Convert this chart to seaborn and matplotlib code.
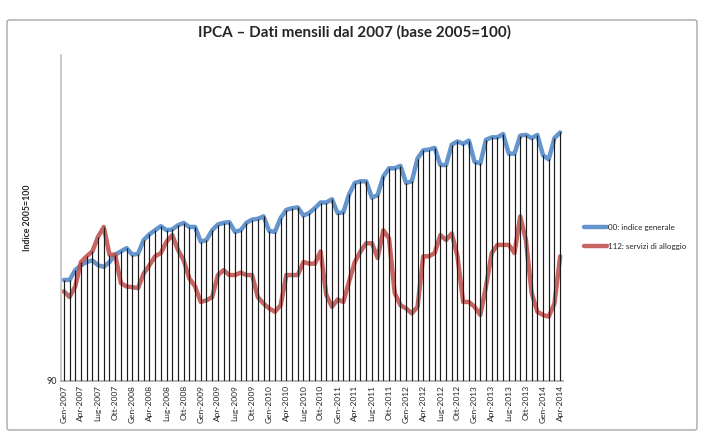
import matplotlib
matplotlib.use("Agg")
import matplotlib.pyplot as plt
from matplotlib.patches import FancyBboxPatch
import numpy as np
import pandas as pd
import seaborn as sns

# ---- data -------------------------------------------------------------
mesi = ["Gen", "Feb", "Mar", "Apr", "Mag", "Giu", "Lug", "Ago", "Set", "Ott", "Nov", "Dic"]
anni = list(range(2007, 2015))
categorie = [f"{m}-{a}" for a in anni for m in mesi][:88]   # Gen-2007 .. Apr-2014

indice_generale = [
    102.4, 102.4, 103.6, 104.2, 104.6, 104.8, 104.2, 104.0, 104.6, 105.5, 105.9, 106.3,
    105.5, 105.6, 107.3, 108.0, 108.5, 109.0, 108.5, 108.6, 109.1, 109.4, 108.9, 108.9,
    107.1, 107.3, 108.5, 109.2, 109.4, 109.5, 108.3, 108.5, 109.4, 109.8, 109.9, 110.2,
    108.4, 108.3, 110.0, 111.0, 111.2, 111.3, 110.3, 110.6, 111.2, 111.9, 111.9, 112.3,
    110.6, 110.7, 112.9, 114.3, 114.5, 114.5, 112.5, 112.8, 115.1, 116.1, 116.1, 116.4,
    114.3, 114.5, 117.3, 118.3, 118.4, 118.6, 116.5, 116.5, 119.0, 119.4, 119.1, 119.5,
    116.9, 116.7, 119.6, 119.9, 119.9, 120.3, 117.9, 117.9, 120.1, 120.2, 119.8, 120.2,
    117.7, 117.2, 119.8, 120.5,
]
servizi_alloggio = [
    101.0, 100.3, 101.6, 104.6, 105.3, 105.9, 107.7, 108.9, 105.5, 105.5, 102.0, 101.6,
    101.5, 101.4, 103.2, 104.2, 105.3, 105.7, 107.1, 107.9, 106.1, 104.8, 102.6, 101.6,
    99.7, 99.9, 100.3, 103.0, 103.6, 103.0, 103.0, 103.3, 103.0, 103.0, 100.3, 99.5,
    98.9, 98.5, 99.3, 103.0, 103.0, 103.0, 104.6, 104.4, 104.4, 105.9, 100.6, 99.1,
    100.0, 99.7, 102.2, 104.6, 105.9, 106.9, 106.9, 105.1, 108.5, 107.5, 100.8, 99.3,
    98.9, 98.3, 99.1, 105.3, 105.3, 105.7, 107.9, 107.3, 108.1, 105.3, 99.7, 99.7,
    99.1, 98.1, 101.6, 105.7, 106.7, 106.7, 106.7, 105.7, 110.2, 107.3, 100.8, 98.5,
    98.1, 97.9, 99.5, 105.3,
]
serie_nomi = ["00: indice generale", "112: servizi di alloggio"]
serie_colori = ["#4F86C6", "#C0504D"]
tick_labels = categorie[::3]

# ---- figure -----------------------------------------------------------
sns.set_theme(style="white")
plt.rcParams["font.family"] = ["Lato", "DejaVu Sans"]

W, H = 709, 443
fig = plt.figure(figsize=(W / 100, H / 100), dpi=100)
fig.patch.set_facecolor("white")

# outer chart border
border = FancyBboxPatch((7 / W, 1 - 430 / H), 690 / W, 410 / H,
                        boxstyle="round,pad=0,rounding_size=0.004",
                        transform=fig.transFigure, fill=False,
                        edgecolor="#A6A6A6", linewidth=1.0)
fig.patches.append(border)

ax = fig.add_axes([61 / W, 1 - 381 / H, (563 - 61) / W, (381 - 55) / H])

x = np.arange(len(categorie))
df = pd.DataFrame({
    "x": np.concatenate([x, x]),
    "valore": indice_generale + servizi_alloggio,
    "serie": [serie_nomi[0]] * len(x) + [serie_nomi[1]] * len(x),
})

sns.lineplot(data=df, x="x", y="valore", hue="serie", hue_order=serie_nomi,
             palette=serie_colori, linewidth=3.2, ax=ax, zorder=2,
             solid_capstyle="round", solid_joinstyle="round", alpha=0.88)

# drop lines from each category down to the axis
top = np.maximum(np.array(indice_generale), np.array(servizi_alloggio))
ax.vlines(x, 90, top, colors="#1A1A1A", linewidth=0.85, zorder=3)

ax.set_xlim(-0.5, len(categorie) - 0.5)
ax.set_ylim(90, 130)
ax.set_yticks([90])
ax.set_yticklabels(["90"], fontsize=6.5)
ax.set_xticks(x[::3])
ax.set_xticklabels(tick_labels, rotation=90, fontsize=6)
ax.tick_params(axis="both", length=0, pad=3)
ax.set_xlabel("")
ax.set_ylabel("Indice 2005=100", fontsize=6.3, fontweight="bold", labelpad=10)

for s in ["top", "right"]:
    ax.spines[s].set_visible(False)
ax.spines["left"].set_color("#BFBFBF")
ax.spines["bottom"].set_color("#A6A6A6")
ax.spines["left"].set_linewidth(1.2)
ax.spines["bottom"].set_linewidth(1.2)

fig.text(355 / W, 1 - 32 / H, "IPCA \u2013 Dati mensili dal 2007 (base 2005=100)",
         ha="center", va="center", fontsize=11, fontweight="bold")

leg = ax.legend(loc="center left", bbox_to_anchor=(577 / W, 1 - 237 / H),
                bbox_transform=fig.transFigure, frameon=False, fontsize=5.8,
                handlelength=2.8, handletextpad=0.1, labelspacing=1.5)
for line in leg.get_lines():
    line.set_linewidth(3.2)

fig.savefig("out.png", dpi=100)
